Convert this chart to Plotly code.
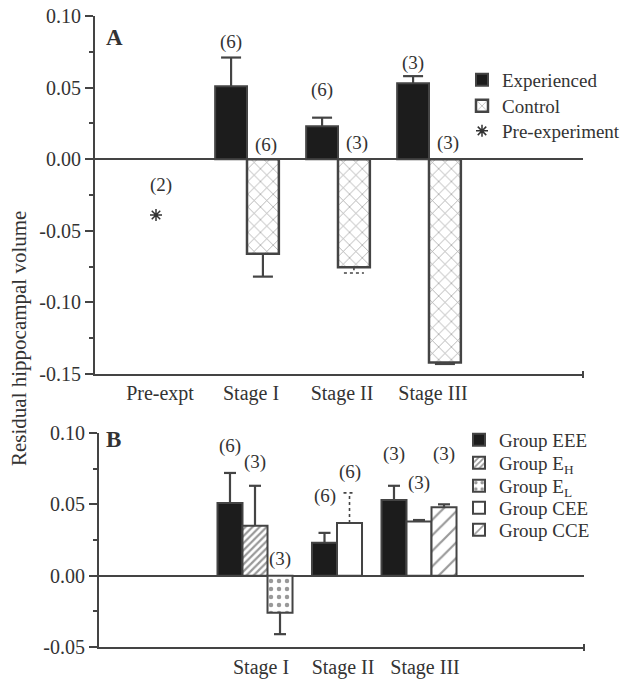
import plotly.graph_objects as go

W, H = 643, 679

# ---------------- Panel A data ----------------
stages_A = ["Pre-expt", "Stage I", "Stage II", "Stage III"]
exp_vals = [None, 0.051, 0.023, 0.053]
exp_err = [None, 0.020, 0.006, 0.005]
exp_n = [None, 6, 6, 3]
ctrl_vals = [None, -0.066, -0.0755, -0.142]
ctrl_err = [None, 0.016, 0.004, 0.001]
ctrl_n = [None, 6, 3, 3]
pre_val = -0.039
pre_n = 2
yticks_A = [-0.15, -0.10, -0.05, 0.0, 0.05, 0.10]

# ---------------- Panel B data ----------------
stages_B = ["Stage I", "Stage II", "Stage III"]
eee_vals = [0.051, 0.023, 0.053]
eee_err = [0.021, 0.007, 0.010]
eee_n = [6, 6, 3]
eh_vals = [0.035, None, None]
eh_err = [0.028, None, None]
eh_n = [3, None, None]
el_vals = [-0.026, None, None]
el_err = [0.015, None, None]
el_n = [3, None, None]
cee_vals = [None, 0.037, 0.038]
cee_err = [None, 0.021, 0.001]
cee_n = [None, 6, 3]
cce_vals = [None, None, 0.048]
cce_err = [None, None, 0.002]
cce_n = [None, None, 3]
yticks_B = [-0.05, 0.0, 0.05, 0.10]

# ---------------- styling / layout constants ----------------
FONT = "Liberation Serif"
TXT = "#333333"
LINE = "#444444"
FS = 20

# label heights (annotation placement, data units)
labA_exp_y = [None, 0.082, 0.048, 0.067]
labA_ctrl_y = [None, 0.010, 0.011, 0.011]
labA_pre_y = -0.018
labB_y = {
    "eee": [0.091, 0.056, 0.085],
    "eh": [0.080, None, None],
    "el": [0.012, None, None],
    "cee": [None, 0.073, 0.065],
    "cce": [None, None, 0.085],
}

def py2paper(py):
    return 1 - py / H

def px2paper(px):
    return px / W

# panel A pixel geometry
A_left, A_right, A_top, A_bot = 95, 583, 16, 374
A_c0, A_unit = 156, 91
A_w = 0.35
A_cap = 10 / A_unit
# panel B pixel geometry
B_left, B_right, B_top, B_bot = 99, 584, 433, 647
B_c0, B_unit = 255, 82
B_w = 0.305
B_cap = 6 / B_unit

# legend entry positions (pixel y centres) and text start x
legA_y = [80, 106, 131]
legA_textx = 502
legB_y = [440, 463, 486, 508, 530]
legB_textx = 499
LEG_OFFSET = 40

fig = go.Figure()
annotations = []


def err_trace(xc, v, e, cap, xa, ya, dotted=False):
    if v is None or e is None:
        return
    end = v + e if v >= 0 else v - e
    fig.add_trace(go.Scatter(
        x=[xc, xc, None, xc - cap, xc + cap],
        y=[v, end, None, end, end],
        mode="lines",
        line=dict(color=LINE, width=1.6 if dotted else 2.2, dash="dot" if dotted else "solid"),
        xaxis=xa, yaxis=ya, showlegend=False, hoverinfo="skip",
    ))


def n_label(x, y, n, xa, ya):
    annotations.append(dict(
        x=x, y=y, xref=xa, yref=ya, text=f"({n})", showarrow=False,
        font=dict(family=FONT, size=FS - 1, color=TXT),
    ))

legend_defs = {}
leg_counter = [0]


def new_legend(py, textx):
    leg_counter[0] += 1
    name = "legend" if leg_counter[0] == 1 else f"legend{leg_counter[0]}"
    legend_defs[name] = dict(
        x=px2paper(textx - LEG_OFFSET), y=py2paper(py), xanchor="left", yanchor="middle",
        font=dict(family=FONT, size=FS - 1, color=TXT), bgcolor="rgba(0,0,0,0)",
        itemwidth=30, borderwidth=0,
    )
    return name

# ---------------- Panel A ----------------
exp_x = [i - A_w / 2 for i in range(len(stages_A))]
ctrl_x = [i + A_w / 2 for i in range(len(stages_A))]

fig.add_trace(go.Bar(
    x=exp_x, y=exp_vals, width=A_w, name="Experienced",
    marker=dict(color="#1c1c1c", line=dict(color=LINE, width=2)),
    xaxis="x", yaxis="y", legend=new_legend(legA_y[0], legA_textx),
))
fig.add_trace(go.Bar(
    x=ctrl_x, y=ctrl_vals, width=A_w, name="Control",
    marker=dict(color="white", line=dict(color=LINE, width=2.5),
                pattern=dict(shape="x", size=9, solidity=0.16, fgcolor="#444444", bgcolor="white")),
    xaxis="x", yaxis="y", legend=new_legend(legA_y[1], legA_textx),
))
fig.add_trace(go.Scatter(
    x=[0], y=[pre_val], mode="markers", name="Pre-experiment",
    marker=dict(symbol="asterisk-open", size=10, line=dict(color=TXT, width=1.5), color=TXT),
    xaxis="x", yaxis="y", legend=new_legend(legA_y[2], legA_textx),
))
for i in range(len(stages_A)):
    err_trace(exp_x[i], exp_vals[i], exp_err[i], A_cap, "x", "y")
    err_trace(ctrl_x[i], ctrl_vals[i], ctrl_err[i], A_cap, "x", "y", dotted=(i == 2))
    if exp_n[i] is not None:
        n_label(exp_x[i], labA_exp_y[i], exp_n[i], "x", "y")
    if ctrl_n[i] is not None:
        n_label(ctrl_x[i] + 0.03, labA_ctrl_y[i], ctrl_n[i], "x", "y")
n_label(0.05, labA_pre_y, pre_n, "x", "y")

# ---------------- Panel B ----------------
b_series = [
    ("eee", "Group EEE", eee_vals, eee_err, eee_n,
     dict(color="#1c1c1c", line=dict(color=LINE, width=2))),
    ("eh", "Group E<sub>H</sub>", eh_vals, eh_err, eh_n,
     dict(color="white", line=dict(color=LINE, width=2),
          pattern=dict(shape="/", size=5, solidity=0.45, fgcolor="#333333", bgcolor="white"))),
    ("el", "Group E<sub>L</sub>", el_vals, el_err, el_n,
     dict(color="white", line=dict(color=LINE, width=2),
          pattern=dict(shape=".", size=8, solidity=0.25, fgcolor="#333333", bgcolor="white"))),
    ("cee", "Group CEE", cee_vals, cee_err, cee_n,
     dict(color="white", line=dict(color=LINE, width=2))),
    ("cce", "Group CCE", cce_vals, cce_err, cce_n,
     dict(color="white", line=dict(color=LINE, width=2),
          pattern=dict(shape="/", size=11, solidity=0.2, fgcolor="#333333", bgcolor="white"))),
]

present = [[k for k, s in enumerate(b_series) if s[2][j] is not None] for j in range(len(stages_B))]
bx = {s[0]: [None] * len(stages_B) for s in b_series}
for j, ks in enumerate(present):
    m = len(ks)
    for r, k in enumerate(ks):
        bx[b_series[k][0]][j] = j + (r - (m - 1) / 2) * B_w

for idx, (key, name, vals, errs, ns, mk) in enumerate(b_series):
    xs = [bx[key][j] for j in range(len(stages_B)) if vals[j] is not None]
    ys = [vals[j] for j in range(len(stages_B)) if vals[j] is not None]
    fig.add_trace(go.Bar(x=xs, y=ys, width=B_w, name=name, marker=mk,
                         xaxis="x2", yaxis="y2", legend=new_legend(legB_y[idx], legB_textx)))
for key, name, vals, errs, ns, mk in b_series:
    for j in range(len(stages_B)):
        if vals[j] is None:
            continue
        err_trace(bx[key][j], vals[j], errs[j], B_cap, "x2", "y2",
                  dotted=(key == "cee" and j == 1))
        n_label(bx[key][j], labB_y[key][j], ns[j], "x2", "y2")

# panel letters
annotations.append(dict(x=px2paper(104), y=py2paper(23), xref="paper", yref="paper",
                        text="<b>A</b>", showarrow=False, xanchor="left",
                        font=dict(family=FONT, size=23, color=TXT)))
annotations.append(dict(x=px2paper(104), y=py2paper(439), xref="paper", yref="paper",
                        text="<b>B</b>", showarrow=False, xanchor="left",
                        font=dict(family=FONT, size=23, color=TXT)))
# y title
annotations.append(dict(x=px2paper(19), y=py2paper(339), xref="paper", yref="paper",
                        text="Residual hippocampal volume", showarrow=False, textangle=-90,
                        xanchor="center", yanchor="middle",
                        font=dict(family=FONT, size=21, color=TXT)))

# small end ticks on bottom axes
shapes = [
    dict(type="line", xref="paper", yref="paper", x0=px2paper(A_right), x1=px2paper(A_right),
         y0=py2paper(A_bot - 3), y1=py2paper(A_bot + 4), line=dict(color=LINE, width=2)),
    dict(type="line", xref="paper", yref="paper", x0=px2paper(B_right), x1=px2paper(B_right),
         y0=py2paper(B_bot - 3), y1=py2paper(B_bot + 4), line=dict(color=LINE, width=2)),
]

yax_common = dict(
    showline=True, linecolor=LINE, linewidth=2,
    ticks="outside", ticklen=8, tickwidth=2, tickcolor=LINE,
    minor=dict(ticks="outside", ticklen=4, tickwidth=1.5, tickcolor=LINE, dtick=0.025),
    showgrid=False, automargin=False,
    zeroline=True, zerolinecolor=LINE, zerolinewidth=2,
    tickfont=dict(family=FONT, size=FS, color=TXT),
)
xax_common = dict(
    showline=True, linecolor=LINE, linewidth=2, showgrid=False, zeroline=False,
    ticks="", automargin=False, tickfont=dict(family=FONT, size=FS, color=TXT),
)

fig.update_layout(
    width=W, height=H,
    margin=dict(l=0, r=0, t=0, b=0, autoexpand=False),
    paper_bgcolor="white", plot_bgcolor="white",
    barmode="overlay",
    showlegend=True,
    xaxis=dict(xax_common, domain=[px2paper(A_left), px2paper(A_right)],
               range=[(A_left - A_c0) / A_unit, (A_right - A_c0) / A_unit],
               tickmode="array", tickvals=list(range(len(stages_A))), ticktext=stages_A,
               ticklabelshift=4, anchor="y"),
    yaxis=dict(yax_common, domain=[py2paper(A_bot), py2paper(A_top)],
               range=[-0.15, 0.10], anchor="x", tickmode="array",
               tickvals=yticks_A, ticktext=[f"{v:.2f}" for v in yticks_A]),
    xaxis2=dict(xax_common, domain=[px2paper(B_left), px2paper(B_right)],
                range=[(B_left - B_c0) / B_unit, (B_right - B_c0) / B_unit],
                tickmode="array", tickvals=list(range(len(stages_B))), ticktext=stages_B,
                ticklabelshift=6, ticklabelstandoff=1, anchor="y2"),
    yaxis2=dict(yax_common, domain=[py2paper(B_bot), py2paper(B_top)],
                range=[-0.05, 0.10], anchor="x2", tickmode="array",
                tickvals=yticks_B, ticktext=[f"{v:.2f}" for v in yticks_B]),
    annotations=annotations,
    shapes=shapes,
    **legend_defs,
)

fig.write_html(
    "out.html",
    config={"displayModeBar": False},
    post_script="document.body.style.margin='0';document.body.style.padding='0';",
)
